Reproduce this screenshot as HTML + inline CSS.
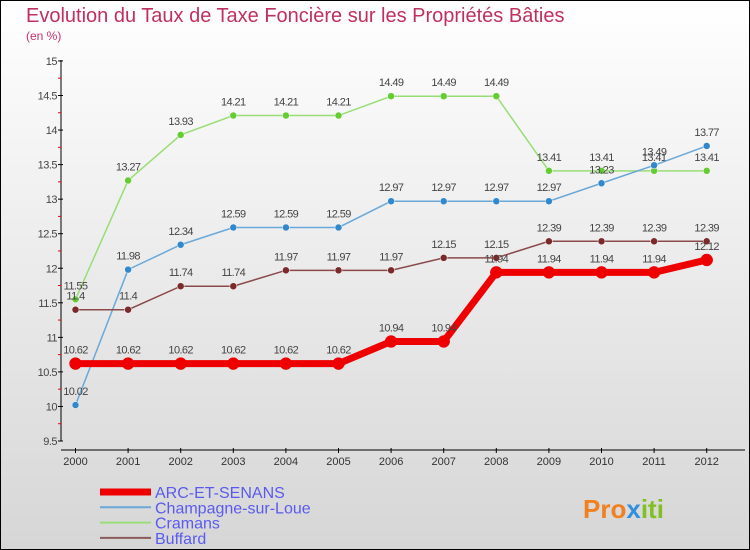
<!DOCTYPE html>
<html><head><meta charset="utf-8"><style>
html,body{margin:0;padding:0}
body{width:750px;height:550px;overflow:hidden;font-family:"Liberation Sans",sans-serif}
svg{display:block}
</style></head><body>
<svg id="c" width="750" height="550" xmlns="http://www.w3.org/2000/svg">
<defs><linearGradient id="bg" x1="0" y1="0" x2="0" y2="1"><stop offset="0" stop-color="#ffffff"/><stop offset="1" stop-color="#d6d6d6"/></linearGradient></defs>
<rect x="0.5" y="0.5" width="749" height="549" fill="url(#bg)" stroke="#000"/>
<text x="26" y="22" font-size="20" fill="#c0305e">Evolution du Taux de Taxe Foncière sur les Propriétés Bâties</text>
<text x="26" y="40" font-size="12" fill="#c0306e">(en %)</text>
<g id="axes"></g><g id="series"></g><g id="legend"></g>
<text x="583" y="518" font-size="26" font-weight="bold" fill="#f08020">Pro<tspan fill="#3090e0">x</tspan><tspan fill="#80c020">iti</tspan></text>
</svg>
<script>
const years=[2000,2001,2002,2003,2004,2005,2006,2007,2008,2009,2010,2011,2012];
const yTicks=[9.5,10,10.5,11,11.5,12,12.5,13,13.5,14,14.5,15];
const arc=[10.62,10.62,10.62,10.62,10.62,10.62,10.94,10.94,11.94,11.94,11.94,11.94,12.12];
const champ=[10.02,11.98,12.34,12.59,12.59,12.59,12.97,12.97,12.97,12.97,13.23,13.49,13.77];
const cramans=[11.55,13.27,13.93,14.21,14.21,14.21,14.49,14.49,14.49,13.41,13.41,13.41,13.41];
const buffard=[11.4,11.4,11.74,11.74,11.97,11.97,11.97,12.15,12.15,12.39,12.39,12.39,12.39];
const names=["ARC-ET-SENANS","Champagne-sur-Loue","Cramans","Buffard"];
const NS="http://www.w3.org/2000/svg";
const xS=i=>75.5+i*52.6;
const yS=v=>441-(v-9.5)*69.1;
function mk(t,a,p){const e=document.createElementNS(NS,t);for(const k in a)e.setAttribute(k,a[k]);p.appendChild(e);return e;}
const ax=document.getElementById('axes');
let e=mk('line',{x1:61,y1:60,x2:61,y2:441,stroke:'#000'},ax);


e=mk('line',{x1:61,y1:450,x2:745,y2:450,stroke:'#000'},ax);


yTicks.forEach((v,i)=>{const y=yS(v);
 mk('line',{x1:58,y1:y,x2:63,y2:y,stroke:'#000'},ax);
 if(i<yTicks.length-1) mk('line',{x1:58,y1:y-17.3,x2:61,y2:y-17.3,stroke:'#e00'},ax);
 const t=mk('text',{x:57,y:y+4,'font-size':11,'text-anchor':'end',fill:'#444','letter-spacing':'-0.5'},ax);t.textContent=v;
 
 });
years.forEach((yr,i)=>{const x=xS(i);
 mk('line',{x1:x,y1:448,x2:x,y2:453,stroke:'#000'},ax);
 const t=mk('text',{x:x,y:465,'font-size':11,'text-anchor':'middle',fill:'#333'},ax);t.textContent=yr;
 
 });
const sg=document.getElementById('series');
const defs=[[cramans,'#99dd77','#66cc33',1.5,3.5,'cramans'],[champ,'#6aa8d8','#3388cc',1.5,3.5,'champagne-sur-loue'],[buffard,'#8b4a4a','#7a2a2a',1.5,3.5,'buffard'],[arc,'#ee0000','#ee0000',7,6,'arc-et-senans']];
defs.forEach(([d,lc,pc,w,r,n])=>{
 const g=mk('g',{},sg);
 
 
 const l=mk('polyline',{points:d.map((v,i)=>xS(i)+','+yS(v)).join(' '),fill:'none',stroke:lc,'stroke-width':w},g);
 
 
 d.forEach((v,i)=>{const c=mk('circle',{cx:xS(i),cy:yS(v),r:r,fill:pc,stroke:lc==pc?pc:'#fff','stroke-width':0.5},g);
  
  
  const t=mk('text',{x:xS(i),y:yS(v)-10,'font-size':11,'text-anchor':'middle',fill:'#444','letter-spacing':'-0.6'},g);t.textContent=v;
  
  });
});
const lg=document.getElementById('legend');
const lcol=['#ee0000','#6aa8d8','#99dd77','#8b5a5a'],lw=[7,2,2,2];
names.forEach((n,i)=>{const y=492+i*15.3;
 const g=mk('g',{},lg);
 
 
 mk('line',{x1:100,y1:y,x2:151,y2:y,stroke:lcol[i],'stroke-width':lw[i]},g);
 const t=mk('text',{x:155,y:y+6,'font-size':16,fill:'#5a5af0'},g);t.textContent=n;});
</script>
</body></html>
